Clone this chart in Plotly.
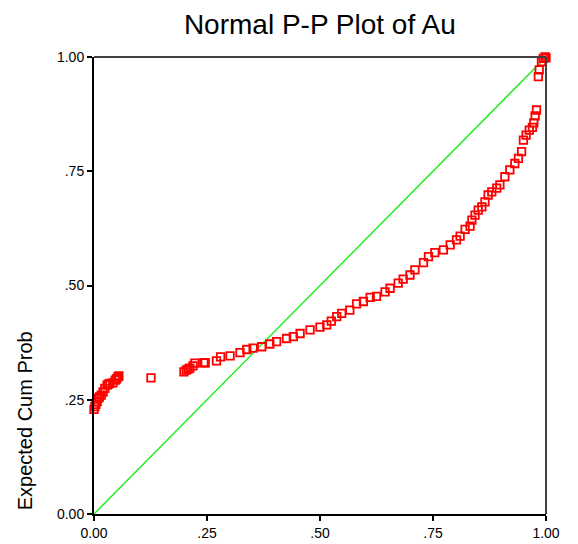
import plotly.graph_objects as go

# Observed cumulative probability (x) and expected cumulative probability (y)
obs_cum_prob = [
    0.000, 0.002, 0.004, 0.007, 0.009, 0.012, 0.016, 0.020, 0.024, 0.029, 0.032,
    0.035, 0.042, 0.047, 0.050, 0.053, 0.055,
    0.126,
    0.199, 0.204, 0.208, 0.212, 0.219, 0.223, 0.243,
    0.246, 0.271, 0.280, 0.301, 0.323, 0.338, 0.352, 0.371, 0.389, 0.404,
    0.426, 0.441, 0.456, 0.478, 0.500, 0.515, 0.525,
    0.537, 0.548, 0.566, 0.581, 0.596, 0.611, 0.625, 0.644, 0.655, 0.673,
    0.684, 0.699, 0.710, 0.729, 0.740, 0.754, 0.773,
    0.788, 0.802, 0.810, 0.821, 0.832, 0.836, 0.843, 0.850, 0.858, 0.865,
    0.872, 0.880, 0.891, 0.898, 0.909, 0.920, 0.931, 0.939, 0.946,
    0.950, 0.956, 0.963, 0.970, 0.973, 0.976, 0.979,
    0.983, 0.985, 0.990, 0.994, 0.998, 1.000,
]
exp_cum_prob = [
    0.229, 0.235, 0.240, 0.246, 0.253, 0.256, 0.260, 0.267, 0.275, 0.282, 0.284,
    0.286, 0.287, 0.293, 0.296, 0.300, 0.302,
    0.298,
    0.311, 0.315, 0.317, 0.319, 0.324, 0.330, 0.331,
    0.331, 0.335, 0.344, 0.346, 0.353, 0.360, 0.363, 0.366, 0.372, 0.377,
    0.384, 0.388, 0.395, 0.403, 0.409, 0.414, 0.422,
    0.432, 0.439, 0.446, 0.460, 0.465, 0.474, 0.476, 0.486, 0.494, 0.505,
    0.514, 0.523, 0.534, 0.550, 0.563, 0.572, 0.578,
    0.589, 0.600, 0.608, 0.623, 0.630, 0.643, 0.654, 0.665, 0.672, 0.683,
    0.698, 0.705, 0.713, 0.720, 0.738, 0.753, 0.767, 0.778, 0.793,
    0.818, 0.829, 0.840, 0.846, 0.856, 0.871, 0.884,
    0.957, 0.972, 0.990, 0.997, 1.000, 0.998,
]
ref_line = [0.0, 1.0]
tick_vals = [0.0, 0.25, 0.5, 0.75, 1.0]
tick_text = ["0.00", ".25", ".50", ".75", "1.00"]

fig = go.Figure()
fig.add_trace(go.Scatter(
    x=ref_line, y=ref_line, mode="lines",
    line=dict(color="#22ee22", width=1.5),
    hoverinfo="skip", showlegend=False,
))
fig.add_trace(go.Scatter(
    x=obs_cum_prob, y=exp_cum_prob, mode="markers",
    marker=dict(symbol="square-open", size=7.5, color="#ff0000",
                line=dict(color="#ff0000", width=1.8)),
    cliponaxis=False, showlegend=False,
))

axis_common = dict(
    range=[0, 1], tickvals=tick_vals, ticktext=tick_text,
    showgrid=False, zeroline=False, showline=True, linecolor="#000000",
    linewidth=2, ticks="outside", ticklen=5, tickwidth=1.5, tickcolor="#000000",
    tickfont=dict(family="Liberation Sans, Arial", size=14, color="#000000"),
    automargin=False,
)
fig.update_xaxes(**axis_common)
fig.update_yaxes(**axis_common)

# top and right frame lines (grey)
fig.add_shape(type="line", xref="paper", yref="paper", x0=0, x1=1, y0=1, y1=1,
              line=dict(color="#404040", width=2))
fig.add_shape(type="line", xref="paper", yref="paper", x0=1, x1=1, y0=0, y1=1,
              line=dict(color="#404040", width=2))

fig.add_annotation(
    text="Expected Cum Prob", textangle=-90, showarrow=False,
    xref="paper", yref="paper", x=-0.152, y=0.2035, xanchor="center", yanchor="middle",
    font=dict(family="Liberation Sans, Arial", size=20, color="#000000"),
)

# page body has an 8px default margin, so the figure is sized to fit the window
fig.update_layout(
    width=570, height=536,
    margin=dict(l=86, r=32, t=49, b=30),
    paper_bgcolor="white", plot_bgcolor="white",
    title=dict(text="Normal P-P Plot of Au", x=0.547, xanchor="center",
               y=0.988, yanchor="top",
               font=dict(family="Liberation Sans, Arial", size=28, color="#000000")),
)

fig.write_html("out.html")
